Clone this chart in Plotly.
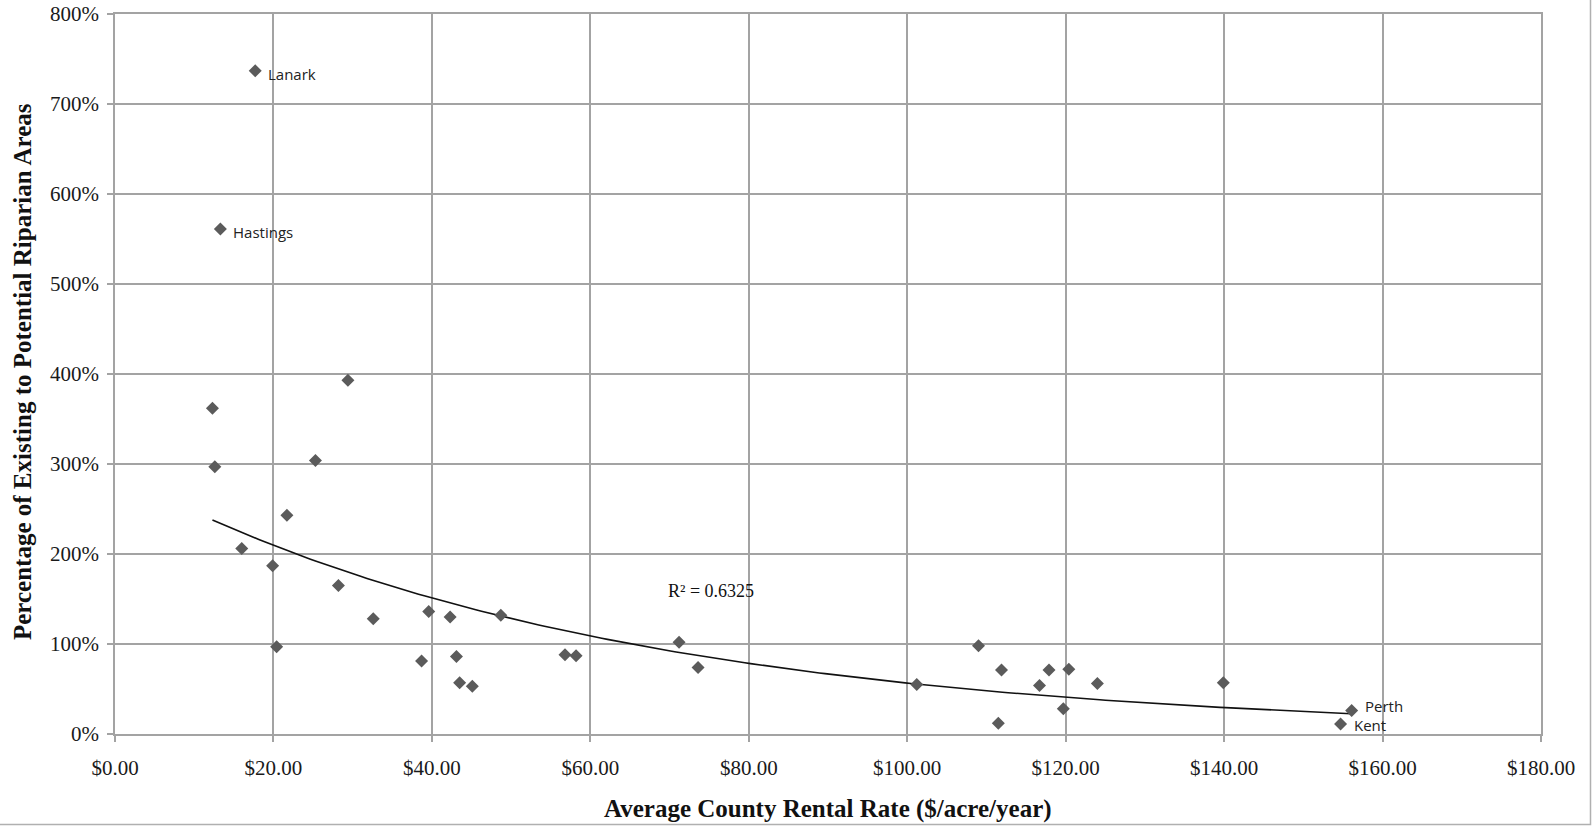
import numpy as np
import plotly.graph_objects as go

# Average county rental rate ($/acre/year)
rental_rate = [17.7, 13.3, 12.3, 12.6, 29.4, 25.3, 21.7, 16.0, 19.9, 20.4,
               28.2, 32.6, 38.7, 39.6, 42.3, 43.1, 43.5, 45.1, 48.7, 56.8,
               58.2, 71.2, 73.6, 101.2, 109.0, 111.9, 111.5, 116.7, 117.9, 119.7,
               120.4, 124.0, 139.9, 156.1, 154.7]
# Percentage of existing to potential riparian areas (as fraction)
riparian_pct = [7.37, 5.61, 3.62, 2.97, 3.93, 3.04, 2.43, 2.06, 1.87, 0.97,
                1.65, 1.28, 0.81, 1.36, 1.30, 0.86, 0.57, 0.53, 1.32, 0.88,
                0.87, 1.02, 0.74, 0.55, 0.98, 0.71, 0.12, 0.54, 0.71, 0.28,
                0.72, 0.56, 0.57, 0.26, 0.11]
county_labels = ["Lanark", "Hastings", "", "", "", "", "", "", "", "",
                 "", "", "", "", "", "", "", "", "", "",
                 "", "", "", "", "", "", "", "", "", "",
                 "", "", "", "Perth", "Kent"]
label_yshift = {"Lanark": -3, "Hastings": -3, "Perth": 5, "Kent": -1}

# Exponential trendline parameters (y = a * exp(b x)) as shown on chart
trend_a = 2.91
trend_b = -0.01638
trend_r2_text = "R² = 0.6325"

x_ticks = [0, 20, 40, 60, 80, 100, 120, 140, 160, 180]
x_tick_labels = ["$0.00", "$20.00", "$40.00", "$60.00", "$80.00", "$100.00",
                 "$120.00", "$140.00", "$160.00", "$180.00"]
y_ticks = [0, 1, 2, 3, 4, 5, 6, 7, 8]
y_tick_labels = ["0%", "100%", "200%", "300%", "400%", "500%", "600%", "700%", "800%"]

x_title = "Average County Rental Rate ($/acre/year)"
y_title = "Percentage of Existing to Potential Riparian Areas"

grid = "#a3a3a3"
serif = "Liberation Serif, Times New Roman, serif"

fig = go.Figure()

tx = np.linspace(min(rental_rate), max(rental_rate), 200)
fig.add_trace(go.Scatter(
    x=tx, y=trend_a * np.exp(trend_b * tx), mode="lines",
    line=dict(color="#111111", width=1.6), hoverinfo="skip", showlegend=False))

fig.add_trace(go.Scatter(
    x=rental_rate, y=riparian_pct, mode="markers",
    marker=dict(symbol="diamond", size=10, color="#5b5b5b"),
    showlegend=False))

for xv, yv, lab in zip(rental_rate, riparian_pct, county_labels):
    if lab:
        fig.add_annotation(x=xv, y=yv, xref="x", yref="y", text=lab, showarrow=False,
                           xanchor="left", xshift=11, yshift=label_yshift.get(lab, 0),
                           font=dict(family="Open Sans, sans-serif", size=15, color="#222222"))

fig.add_annotation(x=75.2, y=1.59, xref="x", yref="y", text=trend_r2_text,
                   showarrow=False, font=dict(family=serif, size=18, color="#111111"))

# axis titles
fig.add_annotation(x=0.5, y=(734 - 809) / 720, xref="paper", yref="paper",
                   text="<b>" + x_title + "</b>", showarrow=False,
                   xanchor="center", yanchor="middle",
                   font=dict(family=serif, size=25, color="#111111"))
fig.add_annotation(x=(22 - 115) / 1426, y=(734 - 372) / 720, xref="paper", yref="paper",
                   text="<b>" + y_title + "</b>", showarrow=False, textangle=-90,
                   xanchor="center", yanchor="middle",
                   font=dict(family=serif, size=25, color="#111111"))

axis_common = dict(showgrid=True, gridcolor=grid, gridwidth=1.5,
                   showline=True, linecolor=grid, linewidth=1.5, mirror=True,
                   ticks="outside", ticklen=6, tickcolor=grid, tickwidth=1.5,
                   zeroline=False, automargin=False,
                   tickfont=dict(family=serif, size=21, color="#1a1a1a"))

fig.update_xaxes(range=[0, 180], tickvals=x_ticks, ticktext=x_tick_labels,
                 ticklabelstandoff=8, **axis_common)
fig.update_yaxes(range=[0, 8], tickvals=y_ticks, ticktext=y_tick_labels,
                 ticklabelstandoff=4, **axis_common)

# outer chart border (right and bottom visible)
fig.add_shape(type="rect", xref="paper", yref="paper",
              x0=-0.2, x1=(1590.5 - 115) / 1426, y0=-(824.5 - 734) / 720, y1=1.2,
              line=dict(color="#b0b0b0", width=1.5), layer="below")

fig.update_layout(width=1593, height=827,
                  margin=dict(l=115, r=52, t=14, b=93),
                  plot_bgcolor="white", paper_bgcolor="white")

fig.write_html("out.html", config={"displayModeBar": False},
               post_script="document.body.style.margin='0';document.body.style.overflow='hidden';")
